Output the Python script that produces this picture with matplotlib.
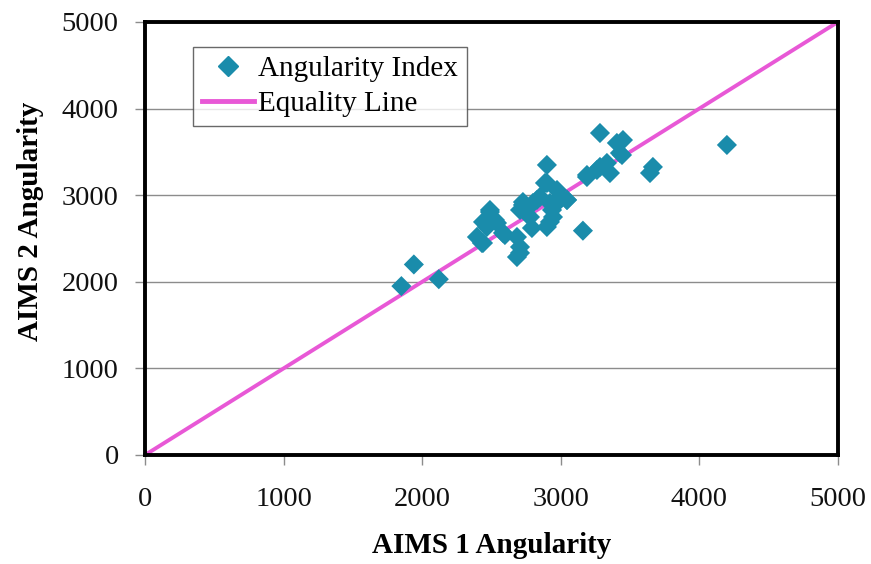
import matplotlib
matplotlib.use("Agg")
import matplotlib.pyplot as plt
import matplotlib.lines as mlines

aims1 = [1850, 1940, 2120, 2395, 2431, 2439, 2439, 2467, 2489, 2489, 2525, 2540, 2583,
         2597, 2684, 2684, 2706, 2706, 2706, 2727, 2727, 2778, 2792, 2799, 2828, 2850,
         2886, 2900, 2900, 2900, 2922, 2922, 2937, 2944, 2973, 2994, 2994, 3045, 3045,
         3160, 3189, 3189, 3261, 3283, 3283, 3333, 3355, 3405, 3427, 3442, 3449, 3644,
         3665, 4199]
aims2 = [1950, 2200, 2030, 2517, 2448, 2691, 2448, 2633, 2806, 2829, 2714, 2679, 2564,
         2540, 2517, 2286, 2333, 2402, 2829, 2887, 2921, 2748, 2621, 2910, 2945, 2979,
         3141, 3349, 3141, 2633, 2910, 2691, 2829, 2748, 3060, 2945, 2979, 2945, 2945,
         2590, 3210, 3233, 3291, 3326, 3718, 3372, 3256, 3603, 3487, 3464, 3637, 3256,
         3326, 3580]
eq_x = [0, 5000]
eq_y = [0, 5000]
ticks = [0, 1000, 2000, 3000, 4000, 5000]

plt.rcParams['font.family'] = ['Liberation Serif', 'DejaVu Serif']

fig = plt.figure(figsize=(8.71, 5.64), dpi=100)
ax = fig.add_axes([0.1665, 0.1933, 0.7955, 0.7677])

for y in ticks[1:-1]:
    ax.axhline(y, color='#8c8c8c', lw=1.0, zorder=0)

ax.plot(eq_x, eq_y, color='#e858d6', lw=2.8, zorder=2, solid_capstyle='butt')
ax.scatter(aims1, aims2, marker='D', s=105, color='#1a8cab', edgecolors='none', zorder=3)

ax.set_xlim(0, 5000)
ax.set_ylim(0, 5000)
ax.set_xticks(ticks)
ax.set_yticks(ticks)
ax.tick_params(axis='both', direction='out', length=7, width=1, color='#8c8c8c',
               labelsize=20.5, labelcolor='#111111')
ax.tick_params(axis='x', pad=16)
ax.tick_params(axis='y', pad=12)
for s in ax.spines.values():
    s.set_linewidth(2.8)
    s.set_color('black')

ax.set_xlabel('AIMS 1 Angularity', fontsize=21, fontweight='bold', va='center')
ax.xaxis.set_label_coords(0.5, -0.21)
ax.set_ylabel('AIMS 2 Angularity', fontsize=21, fontweight='bold', va='center')
ax.yaxis.set_label_coords(-0.166, 0.54)

h1 = mlines.Line2D([], [], marker='D', color='#1a8cab', linestyle='none', markersize=10)
h2 = mlines.Line2D([], [], color='#e858d6', lw=3.5)
leg = ax.legend([h1, h2], ['Angularity Index', 'Equality Line'], loc='upper left',
                bbox_to_anchor=(0.069, 0.942), fontsize=21, frameon=True, fancybox=False,
                edgecolor='#444444', handlelength=1.8, handletextpad=0.15,
                borderpad=0.3, labelspacing=0.3, borderaxespad=0)
leg.get_frame().set_linewidth(1.0)

fig.savefig('out.png', dpi=100)
